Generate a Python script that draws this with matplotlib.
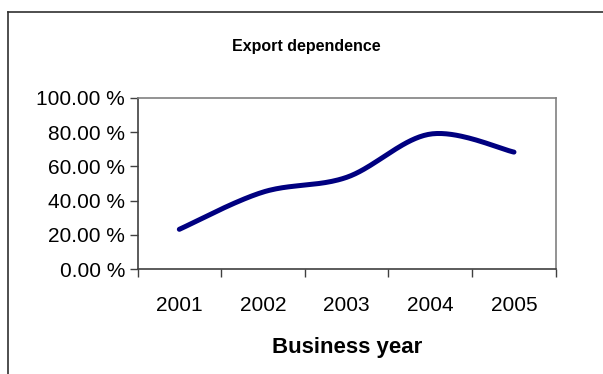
import numpy as np
import matplotlib
matplotlib.use('Agg')
import matplotlib.pyplot as plt
from matplotlib import ticker as mtick
from matplotlib.lines import Line2D

plt.rcParams['font.family'] = ['Liberation Sans', 'DejaVu Sans']

# 수출 의존도 데이터
years = ['2001', '2002', '2003', '2004', '2005']
export_dep = [23.3, 45.0, 53.6, 78.8, 68.3]
y_ticks = [0, 20, 40, 60, 80, 100]

W, H = 603, 374
fig = plt.figure(figsize=(W / 100, H / 100), dpi=100)

# 플롯 영역 (픽셀 기준)
left, right, top, bottom = 137.5, 555.8, 97.7, 269.3
ax = fig.add_axes([left / W, 1 - bottom / H, (right - left) / W, (bottom - top) / H])


# 엑셀 스타일 부드러운 선 (Catmull-Rom -> Bezier)
def smooth(xs, ys, n=40):
    xs = np.asarray(xs, float)
    ys = np.asarray(ys, float)
    px = np.concatenate([[xs[0]], xs, [xs[-1]]])
    py = np.concatenate([[ys[0]], ys, [ys[-1]]])
    out_x, out_y = [], []
    t = np.linspace(0, 1, n)
    for i in range(1, len(px) - 2):
        p0 = np.array([px[i], py[i]])
        p3 = np.array([px[i + 1], py[i + 1]])
        c1 = p0 + (np.array([px[i + 1], py[i + 1]]) - np.array([px[i - 1], py[i - 1]])) / 6
        c2 = p3 - (np.array([px[i + 2], py[i + 2]]) - np.array([px[i], py[i]])) / 6
        b = ((1 - t) ** 3)[:, None] * p0 + (3 * (1 - t) ** 2 * t)[:, None] * c1 \
            + (3 * (1 - t) * t ** 2)[:, None] * c2 + (t ** 3)[:, None] * p3
        out_x.extend(b[:, 0])
        out_y.extend(b[:, 1])
    return out_x, out_y


idx = np.arange(len(years))
sx, sy = smooth(idx, export_dep)
ax.plot(sx, sy, color='#000080', linewidth=3.6, solid_capstyle='round', solid_joinstyle='round')

ax.set_xlim(-0.5, len(years) - 0.5)
ax.set_ylim(0, 100)

# y축
ax.yaxis.set_major_locator(mtick.FixedLocator(y_ticks))
ax.yaxis.set_major_formatter(mtick.FuncFormatter(lambda v, p: '%.2f %%' % v))
ax.tick_params(axis='y', direction='out', length=6, width=1, color='#404040',
               labelsize=15, pad=3)

# x축: 눈금은 경계, 라벨은 가운데
ax.xaxis.set_major_locator(mtick.FixedLocator(np.arange(-0.5, len(years), 1)))
ax.xaxis.set_major_formatter(mtick.NullFormatter())
ax.xaxis.set_minor_locator(mtick.FixedLocator(idx))
ax.xaxis.set_minor_formatter(mtick.FixedFormatter(years))
ax.tick_params(axis='x', which='major', direction='out', length=6, width=1, color='#404040')
ax.tick_params(axis='x', which='minor', length=0, labelsize=15, pad=19)

for s in ['top', 'right']:
    ax.spines[s].set_color('#808080')
    ax.spines[s].set_linewidth(1.2)
for s in ['left', 'bottom']:
    ax.spines[s].set_color('#404040')
    ax.spines[s].set_linewidth(1.2)

ax.set_xlabel('Business year', fontsize=16, fontweight='bold', labelpad=16)
fig.text(306 / W, 1 - 46.7 / H, 'Export dependence', fontsize=11.5, fontweight='bold',
         ha='center', va='center')

# 차트 테두리 (위, 왼쪽)
fig.add_artist(Line2D([7.5 / W, 1.0], [1 - 12 / H, 1 - 12 / H], color='#303030', linewidth=1.2))
fig.add_artist(Line2D([7.5 / W, 7.5 / W], [0.0, 1 - 12 / H], color='#303030', linewidth=1.2))

plt.savefig('out.png', dpi=100)
